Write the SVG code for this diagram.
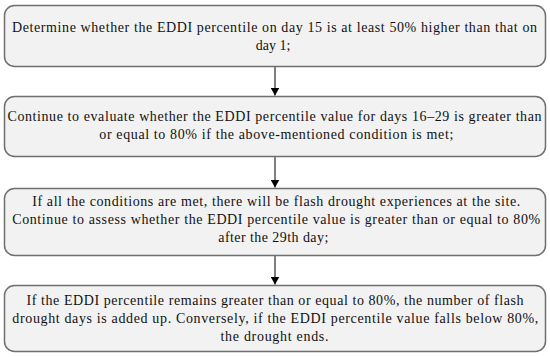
<svg xmlns="http://www.w3.org/2000/svg" width="550" height="357" viewBox="0 0 550 357">
<defs>
<style>
.box{fill:#f2f2f2;stroke:#6f6f6f;stroke-width:1.5}
.t{font-family:"Liberation Serif","DejaVu Serif",serif;font-size:14px;fill:#111;text-anchor:middle}
.c{stroke:#000;stroke-width:1;fill:none}
</style>
<marker id="ah" viewBox="0 0 8 9" refX="8" refY="4.5" markerWidth="8" markerHeight="9" markerUnits="userSpaceOnUse" orient="auto">
<path d="M0,0 L8,4.5 L0,9 Z" fill="#000"/>
</marker>
</defs>
<rect width="550" height="357" fill="#fff"/>
<g id="connectors">
<line class="c" x1="275" y1="67" x2="275" y2="95.5" marker-end="url(#ah)"/>
<line class="c" x1="275" y1="157" x2="275" y2="187.5" marker-end="url(#ah)"/>
<line class="c" x1="275" y1="256" x2="275" y2="284.5" marker-end="url(#ah)"/>
</g>
<g id="node1">
<rect class="box" x="4.5" y="5.5" width="541" height="61" rx="10"/>
<text class="t" x="274.5" y="31.5" textLength="525" lengthAdjust="spacing">Determine whether the EDDI percentile on day 15 is at least 50% higher than that on</text>
<text class="t" x="273" y="49.5">day 1;</text>
</g>
<g id="node2">
<rect class="box" x="4.5" y="96.5" width="541" height="60" rx="10"/>
<text class="t" x="274.5" y="121" textLength="534" lengthAdjust="spacing">Continue to evaluate whether the EDDI percentile value for days 16–29 is greater than</text>
<text class="t" x="276.3" y="139" textLength="354" lengthAdjust="spacing">or equal to 80% if the above-mentioned condition is met;</text>
</g>
<g id="node3">
<rect class="box" x="4.5" y="188.5" width="541" height="67" rx="10"/>
<text class="t" x="276.2" y="206" textLength="488" lengthAdjust="spacing">If all the conditions are met, there will be flash drought experiences at the site.</text>
<text class="t" x="276.2" y="224" textLength="528" lengthAdjust="spacing">Continue to assess whether the EDDI percentile value is greater than or equal to 80%</text>
<text class="t" x="273.3" y="242" textLength="110" lengthAdjust="spacing">after the 29th day;</text>
</g>
<g id="node4">
<rect class="box" x="4.5" y="285.5" width="541" height="66" rx="10"/>
<text class="t" x="275" y="305" textLength="497" lengthAdjust="spacing">If the EDDI percentile remains greater than or equal to 80%, the number of flash</text>
<text class="t" x="275.3" y="323" textLength="526" lengthAdjust="spacing">drought days is added up. Conversely, if the EDDI percentile value falls below 80%,</text>
<text class="t" x="274.5" y="341" textLength="108" lengthAdjust="spacing">the drought ends.</text>
</g>
</svg>
